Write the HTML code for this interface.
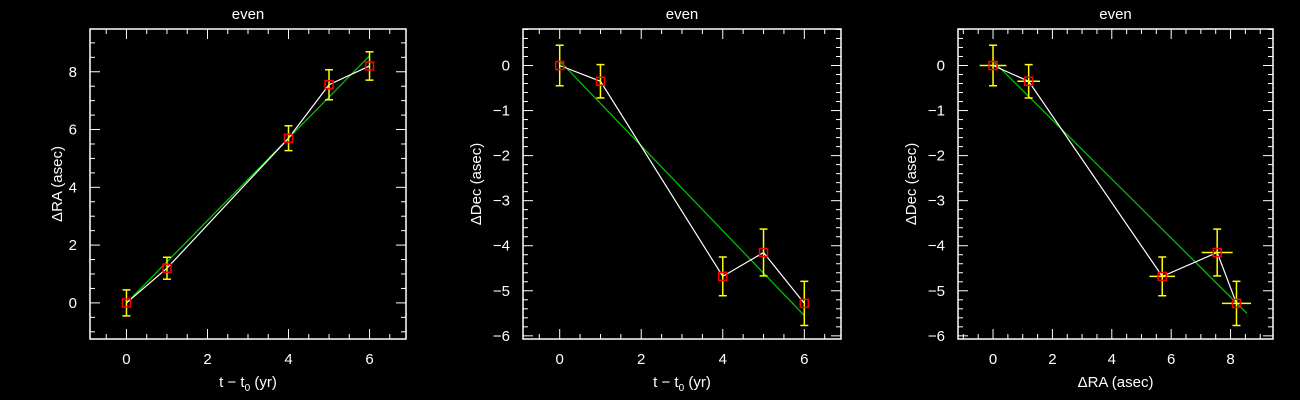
<!DOCTYPE html>
<html><head><meta charset="utf-8"><style>
html,body{margin:0;padding:0;background:#000;}
svg{display:block;font-family:"Liberation Sans",sans-serif;}
</style></head><body>
<svg id="c" width="1300" height="400" viewBox="0 0 1300 400"></svg>
<script>
const epochs=[0,1,4,5,6];
const dRA=[0,1.2,5.7,7.55,8.2];
const dDec=[0,-0.35,-4.68,-4.15,-5.28];
const errRA=[0.45,0.38,0.43,0.52,0.49];
const errDec=[0.45,0.37,0.43,0.52,0.49];
const fitRA=[[0,0],[6,8.55]];
const fitDecT=[[0,0.1],[6,-5.55]];
const fitDecRA=[[0,0.1],[8.55,-5.5]];
const tickX1=[0,2,4,6];
const tickY1=[0,2,4,6,8];
const tickY2=[0,-1,-2,-3,-4,-5,-6];
const tickX3=[0,2,4,6,8];

const NS="http://www.w3.org/2000/svg";
const svg=document.getElementById('c');
function mk(tag,attrs,parent){const e=document.createElementNS(NS,tag);for(const k in attrs)e.setAttribute(k,attrs[k]);(parent||svg).appendChild(e);return e;}

function panel(cfg){
  const g=mk('g',{});
  
  
  const {x0,x1,y0,y1,xmin,xmax,ymin,ymax}=cfg;
  const sx=v=>x0+(v-xmin)/(xmax-xmin)*(x1-x0);
  const sy=v=>y1-(v-ymin)/(ymax-ymin)*(y1-y0);
  const box=mk('rect',{x:x0,y:y0,width:x1-x0,height:y1-y0,fill:'none',stroke:'#fff','stroke-width':1.5},g);
  
  
  const xt=mk('g',{stroke:'#fff','stroke-width':1},g);
  
  
  for(let v=Math.ceil(xmin/cfg.xminor)*cfg.xminor;v<=xmax+1e-9;v+=cfg.xminor){
    const major=Math.abs(v/cfg.xmajor-Math.round(v/cfg.xmajor))<1e-6;
    const L=major?10:5,X=sx(v);
    mk('line',{x1:X,y1:y1,x2:X,y2:y1-L},xt);mk('line',{x1:X,y1:y0,x2:X,y2:y0+L},xt);
  }
  const yt=mk('g',{stroke:'#fff','stroke-width':1},g);
  
  
  for(let v=Math.ceil(ymin/cfg.yminor)*cfg.yminor;v<=ymax+1e-9;v+=cfg.yminor){
    const major=Math.abs(v/cfg.ymajor-Math.round(v/cfg.ymajor))<1e-6;
    const L=major?10:5,Y=sy(v);
    mk('line',{x1:x0,y1:Y,x2:x0+L,y2:Y},yt);mk('line',{x1:x1,y1:Y,x2:x1-L,y2:Y},yt);
  }
  cfg.xticks.forEach(v=>{const t=mk('text',{x:sx(v),y:y1+25,fill:'#fff','font-size':15,'text-anchor':'middle'},g);t.textContent=String(v);
    });
  cfg.yticks.forEach(v=>{const t=mk('text',{x:x0-13,y:sy(v)+5,fill:'#fff','font-size':15,'text-anchor':'end'},g);t.textContent=(v<0?'\u2212'+(-v):String(v));
    });
  const ti=mk('text',{x:(x0+x1)/2,y:19,fill:'#fff','font-size':15,'text-anchor':'middle'},g);ti.textContent='even';
  
  const xl=mk('text',{x:(x0+x1)/2,y:y1+48,fill:'#fff','font-size':15,'text-anchor':'middle'},g);
  
  if(cfg.xlabel==='t'){xl.innerHTML='t \u2212 t<tspan font-size="10" dy="4">0</tspan><tspan dy="-4"> (yr)</tspan>';}
  else xl.textContent=cfg.xlabel;
  const yl=mk('text',{x:0,y:0,fill:'#fff','font-size':15,'text-anchor':'middle',transform:`translate(${x0-cfg.yoff},${(y0+y1)/2}) rotate(-90)`},g);
  yl.textContent=cfg.ylabel;
  
  const f=cfg.fit;
  const fl=mk('line',{x1:sx(f[0][0]),y1:sy(f[0][1]),x2:sx(f[1][0]),y2:sy(f[1][1]),stroke:'#0c0','stroke-width':1.2},g);
  
  const pts=cfg.xs.map((v,i)=>sx(v)+','+sy(cfg.ys[i])).join(' ');
  const pl=mk('polyline',{points:pts,fill:'none',stroke:'#fff','stroke-width':1.2},g);
  
  cfg.xs.forEach((v,i)=>{
    const X=sx(v),Y=sy(cfg.ys[i]);
    const eb=mk('g',{stroke:'#ff0','stroke-width':1.5},g);
    
    const ya=sy(cfg.ys[i]+cfg.ey[i]),yb=sy(cfg.ys[i]-cfg.ey[i]);
    mk('line',{x1:X,y1:ya,x2:X,y2:yb},eb);
    mk('line',{x1:X-4,y1:ya,x2:X+4,y2:ya},eb);mk('line',{x1:X-4,y1:yb,x2:X+4,y2:yb},eb);
    if(cfg.ex){mk('line',{x1:sx(v-cfg.ex[i]),y1:Y,x2:sx(v+cfg.ex[i]),y2:Y},eb);}
    const m=mk('rect',{x:X-4,y:Y-4,width:8,height:8,fill:'none',stroke:'#f00','stroke-width':1.5},g);
    
  });
}
panel({name:'panel-ra-vs-time',x0:90,x1:406,y0:29,y1:339,xmin:-0.9,xmax:6.9,ymin:-1.25,ymax:9.48,
  xmajor:2,xminor:0.5,ymajor:2,yminor:0.5,xticks:tickX1,yticks:tickY1,xlabel:'t',ylabel:'\u0394RA (asec)',yoff:28,
  xs:epochs,ys:dRA,ey:errRA,fit:fitRA});
panel({name:'panel-dec-vs-time',x0:523,x1:841,y0:29,y1:339,xmin:-0.9,xmax:6.9,ymin:-6.07,ymax:0.81,
  xmajor:2,xminor:0.5,ymajor:1,yminor:0.2,xticks:tickX1,yticks:tickY2,xlabel:'t',ylabel:'\u0394Dec (asec)',yoff:42,
  xs:epochs,ys:dDec,ey:errDec,fit:fitDecT});
panel({name:'panel-dec-vs-ra',x0:958,x1:1273,y0:29,y1:339,xmin:-1.18,xmax:9.43,ymin:-6.07,ymax:0.81,
  xmajor:2,xminor:0.5,ymajor:1,yminor:0.2,xticks:tickX3,yticks:tickY2,xlabel:'\u0394RA (asec)',ylabel:'\u0394Dec (asec)',yoff:42,
  xs:dRA,ys:dDec,ey:errDec,ex:errRA,fit:fitDecRA});
</script>
</body></html>
